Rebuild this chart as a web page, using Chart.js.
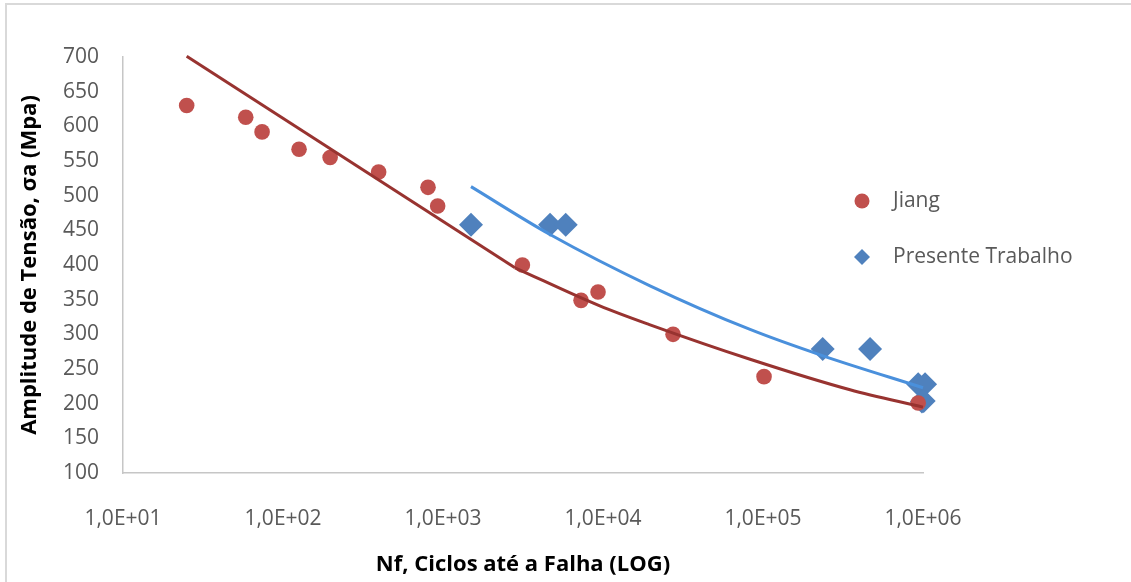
<!DOCTYPE html>
<html>
<head>
<meta charset="utf-8">
<title>Amplitude de Tensão x Ciclos até a Falha</title>
<script src="https://cdn.jsdelivr.net/npm/chart.js@4.4.1/dist/chart.umd.min.js"></script>
<style>
  html, body { margin: 0; padding: 0; background: #ffffff; }
  #wrap { position: relative; width: 1131px; height: 582px; }
</style>
</head>
<body>
<div id="wrap"><canvas id="chart" width="1131" height="582"></canvas></div>
<script>
// Jiang: ciclos até a falha x amplitude de tensão (MPa)
const jiangCycles = [25, 58.5, 74, 126, 197, 396, 806, 926, 3135, 7290, 9310, 27400, 101500, 933000];
const jiangStress = [630, 613, 592, 567, 555, 534, 512, 485, 400, 349, 361, 300, 239, 201];

// Presente trabalho
const presenteCycles = [1496, 4667, 5848, 236000, 467000, 933000, 1030000, 985000, 1010000];
const presenteStress = [458, 458, 458, 279, 279, 228, 228, 203, 204];

// Linha de tendência (Jiang): trecho reto e trecho curvo
const jiangTrendStraightCycles = [25, 2818];
const jiangTrendStraightStress = [701, 396];
const jiangTrendCurveCycles = [2818, 9550, 19500, 83000, 350000, 1000000];
const jiangTrendCurveStress = [396, 341, 314, 264, 220, 195];

// Linha de tendência (Presente trabalho)
const presenteTrendCycles = [1496, 4667, 19670, 83000, 237000, 1000000];
const presenteTrendStress = [513, 444, 370, 307, 269, 223];

// Eixos
const xTickValues = [1e1, 1e2, 1e3, 1e4, 1e5, 1e6];
const xTickLabels = ['1,0E+01', '1,0E+02', '1,0E+03', '1,0E+04', '1,0E+05', '1,0E+06'];
const yTickValues = [100, 150, 200, 250, 300, 350, 400, 450, 500, 550, 600, 650, 700];

const seriesNames = ['Jiang', 'Presente Trabalho'];

const toPoints = (xs, ys) => xs.map((x, i) => ({ x: x, y: ys[i] }));

const RED = '#C0504D';
const RED_LINE = '#983330';
const BLUE = '#4F81BD';
const BLUE_LINE = '#4A90DC';
const TEXT_GRAY = '#595959';
const FONT = "'Open Sans', 'DejaVu Sans', sans-serif";

// moldura da área do gráfico (só bordas superior e esquerda ficam visíveis)
const framePlugin = {
  id: 'frame',
  beforeDraw(chart) {
    const ctx = chart.ctx;
    ctx.save();
    ctx.fillStyle = '#ffffff';
    ctx.fillRect(0, 0, chart.width, chart.height);
    ctx.strokeStyle = '#d9d9d9';
    ctx.lineWidth = 2;
    ctx.beginPath();
    ctx.moveTo(6, chart.height);
    ctx.lineTo(6, 4);
    ctx.lineTo(chart.width, 4);
    ctx.stroke();
    ctx.restore();
  }
};

// legenda à direita da área de plotagem
const sideLegendPlugin = {
  id: 'sideLegend',
  afterDraw(chart) {
    const ctx = chart.ctx;
    const area = chart.chartArea;
    const mx = area.right - 61;
    const tx = area.right - 30;
    const rows = [
      { y: 201, style: 'circle', color: RED, text: seriesNames[0] },
      { y: 257, style: 'diamond', color: BLUE, text: seriesNames[1] }
    ];
    ctx.save();
    rows.forEach(r => {
      ctx.fillStyle = r.color;
      ctx.beginPath();
      if (r.style === 'circle') {
        ctx.arc(mx, r.y, 7.5, 0, Math.PI * 2);
      } else {
        ctx.moveTo(mx, r.y - 8);
        ctx.lineTo(mx + 8, r.y);
        ctx.lineTo(mx, r.y + 8);
        ctx.lineTo(mx - 8, r.y);
        ctx.closePath();
      }
      ctx.fill();
      ctx.fillStyle = TEXT_GRAY;
      ctx.font = '21px ' + FONT;
      ctx.textAlign = 'left';
      ctx.textBaseline = 'middle';
      ctx.fillText(r.text, tx, r.y);
    });
    ctx.restore();
  }
};

new Chart(document.getElementById('chart'), {
  type: 'scatter',
  data: {
    datasets: [
      {
        label: seriesNames[0],
        data: toPoints(jiangCycles, jiangStress),
        pointStyle: 'circle',
        pointRadius: 7.8,
        pointHoverRadius: 7.8,
        backgroundColor: RED,
        borderColor: RED,
        borderWidth: 0,
        order: 2,
        clip: false
      },
      {
        label: seriesNames[1],
        data: toPoints(presenteCycles, presenteStress),
        pointStyle: 'rectRot',
        pointRadius: 12,
        pointHoverRadius: 12,
        backgroundColor: BLUE,
        borderColor: BLUE,
        borderWidth: 0,
        order: 2,
        clip: false
      },
      {
        label: 'tendência Jiang (a)',
        data: toPoints(jiangTrendStraightCycles, jiangTrendStraightStress),
        showLine: true,
        pointRadius: 0,
        borderColor: RED_LINE,
        borderWidth: 3,
        order: 1,
        clip: false
      },
      {
        label: 'tendência Jiang (b)',
        data: toPoints(jiangTrendCurveCycles, jiangTrendCurveStress),
        showLine: true,
        cubicInterpolationMode: 'monotone',
        pointRadius: 0,
        borderColor: RED_LINE,
        borderWidth: 3,
        order: 1,
        clip: false
      },
      {
        label: 'tendência Presente Trabalho',
        data: toPoints(presenteTrendCycles, presenteTrendStress),
        showLine: true,
        cubicInterpolationMode: 'monotone',
        pointRadius: 0,
        borderColor: BLUE_LINE,
        borderWidth: 3,
        order: 1,
        clip: false
      }
    ]
  },
  options: {
    responsive: false,
    animation: false,
    events: [],
    layout: { padding: { left: 8, top: 57, right: 208, bottom: 0 } },
    plugins: {
      legend: { display: false },
      tooltip: { enabled: false }
    },
    scales: {
      x: {
        type: 'logarithmic',
        min: 10,
        max: 1e6,
        afterBuildTicks(scale) {
          scale.ticks = xTickValues.map(v => ({ value: v }));
        },
        afterFit(scale) { scale.height = 109; },
        grid: { display: false, drawTicks: false },
        border: { display: true, color: '#c6c6c6', width: 1.5 },
        ticks: {
          autoSkip: false,
          maxRotation: 0,
          padding: 33,
          color: TEXT_GRAY,
          font: { family: FONT, size: 21 },
          callback(value) {
            const i = xTickValues.indexOf(value);
            return i >= 0 ? xTickLabels[i] : '';
          }
        },
        title: {
          display: true,
          text: 'Nf, Ciclos até a Falha (LOG)',
          color: '#000000',
          font: { family: FONT, size: 22, weight: 'bold' },
          padding: { top: 0, bottom: 4 }
        }
      },
      y: {
        type: 'linear',
        min: 100,
        max: 700,
        afterBuildTicks(scale) {
          scale.ticks = yTickValues.map(v => ({ value: v }));
        },
        afterFit(scale) { scale.width = 115; },
        grid: { display: false, drawTicks: false },
        border: { display: true, color: '#c6c6c6', width: 1.5 },
        ticks: {
          padding: 24,
          color: TEXT_GRAY,
          font: { family: FONT, size: 21 }
        },
        title: {
          display: true,
          text: 'Amplitude de Tensão, σa (Mpa)',
          color: '#000000',
          font: { family: FONT, size: 22, weight: 'bold' },
          padding: { top: 9, bottom: 0 }
        }
      }
    }
  },
  plugins: [framePlugin, sideLegendPlugin]
});
</script>
</body>
</html>
